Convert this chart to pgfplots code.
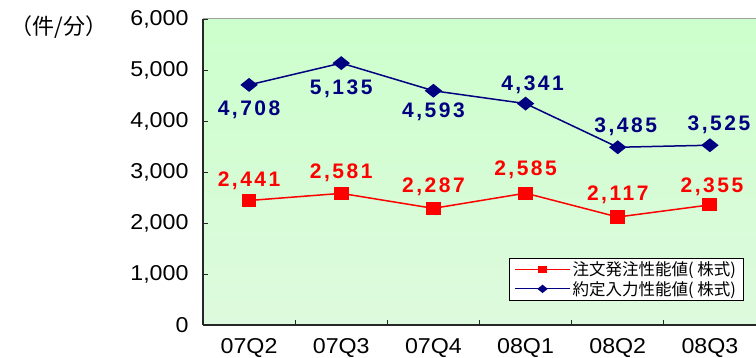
\documentclass[border=0pt]{standalone}
\usepackage{fontspec}
\setmainfont[FakeStretch=1.08]{Liberation Sans}
\newfontfamily\jp{Noto Sans CJK JP}
\newfontfamily\lbl[LetterSpace=12]{Liberation Sans}
\usepackage{pgfplots}
\pgfplotsset{compat=1.18}
\usepackage{pgfplotstable}

\definecolor{bgtop}{RGB}{204,255,204}
\definecolor{bgbot}{RGB}{222,250,222}
\definecolor{navy}{RGB}{0,0,128}
\definecolor{frame}{RGB}{160,160,160}

% marks slightly wider than tall
\pgfdeclareplotmark{wsquare*}{%
  \pgfpathrectanglecorners{\pgfqpoint{-1.15\pgfplotmarksize}{-\pgfplotmarksize}}%
                          {\pgfqpoint{1.15\pgfplotmarksize}{\pgfplotmarksize}}%
  \pgfusepathqfillstroke}
\pgfdeclareplotmark{wdiamond*}{%
  \pgfpathmoveto{\pgfqpoint{1.25\pgfplotmarksize}{0pt}}%
  \pgfpathlineto{\pgfqpoint{0pt}{\pgfplotmarksize}}%
  \pgfpathlineto{\pgfqpoint{-1.25\pgfplotmarksize}{0pt}}%
  \pgfpathlineto{\pgfqpoint{0pt}{-\pgfplotmarksize}}%
  \pgfpathclose
  \pgfusepathqfillstroke}

% legend sample: long line with a small mark in the middle
\pgfplotsset{
  smalllegend/.style={legend image code/.code={%
    \draw[mark repeat=2, mark phase=2, ##1, line width=1.2pt, mark size=#1]
      plot coordinates {(0pt,0pt) (27.5pt,0pt) (55pt,0pt)};}},
  valuelabels/.style={
    visualization depends on={\thisrow{dx}\as\dx},
    visualization depends on={\thisrow{dy}\as\dy},
    nodes near coords,
    nodes near coords style={anchor=center, xshift=\dx pt, yshift=\dy pt,
      text=#1, font=\lbl\bfseries\fontsize{21}{21}\selectfont}},
}

% x: quarter index, y: value, dx/dy: label offset in pt
\pgfplotstableread{
x y    dx dy
0 2441 0  20
1 2581 0  21
2 2287 0  22
3 2585 0  23
4 2117 0  22
5 2355 2  18
}\orders

\pgfplotstableread{
x y    dx dy
0 4708 0  -25
1 5135 0  -26
2 4593 0  -21
3 4341 7  19
4 3485 8  20
5 3525 9  20
}\contracts

\begin{document}
\begin{tikzpicture}
\begin{axis}[
  at={(0,0)}, anchor=south west,
  scale only axis, width=553pt, height=306pt,
  xmin=-0.5, xmax=5.5, ymin=0, ymax=6000,
  clip=false,
  axis x line*=bottom, axis y line*=left,
  axis line style={black!85, line width=1.3pt},
  axis background/.style={top color=bgtop, bottom color=bgbot},
  tick align=inside,
  major tick length=5pt,
  tick style={black!85, line width=0.9pt},
  xtick={0.5,1.5,2.5,3.5,4.5},
  xticklabels={},
  extra x ticks={0,1,2,3,4,5},
  extra x tick labels={07Q2,07Q3,07Q4,08Q1,08Q2,08Q3},
  extra x tick style={major tick length=0pt},
  ytick={0,1000,...,6000},
  scaled y ticks=false,
  /pgf/number format/1000 sep={,},
  /pgf/number format/assume math mode=true,
  tick label style={font=\fontsize{21.5}{21.5}\selectfont},
  yticklabel style={xshift=-11pt},
  xticklabel style={inner sep=0pt, yshift=-13pt},
  legend style={
    at={(rel axis cs:0.977,0.219)}, anchor=north east,
    draw=black, fill=white, line width=0.6pt,
    font=\jp\fontsize{16.5}{19}\selectfont,
    inner xsep=5pt, inner ysep=1.5pt, row sep=0pt,
  },
  legend cell align=left,
]
\draw[frame, line width=1pt] (rel axis cs:0,1) -- (rel axis cs:1,1);

\addplot[red, line width=1.5pt, mark=wsquare*, mark size=5.8pt,
  valuelabels=red, smalllegend=3pt]
  table[x=x, y=y] {\orders};
\addlegendentry{注文発注性能値( 株式)}

\addplot[navy, line width=1.5pt, mark=wdiamond*, mark size=6pt,
  valuelabels=navy, smalllegend=3.4pt]
  table[x=x, y=y] {\contracts};
\addlegendentry{約定入力性能値( 株式)}

\node[font=\jp\fontsize{22}{22}\selectfont, anchor=center]
  at (rel axis cs:-0.26,0.974) {（件/分）};
\end{axis}
\pgfresetboundingbox
\path (-203pt,-33pt) rectangle (553pt,325pt);
\end{tikzpicture}
\end{document}
